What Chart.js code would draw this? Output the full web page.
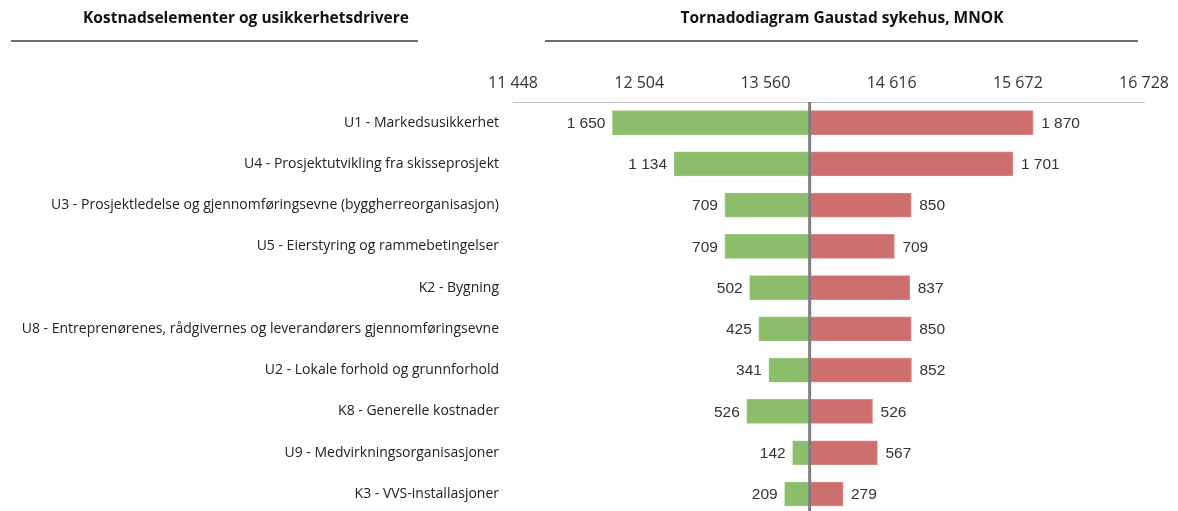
<!DOCTYPE html>
<html>
<head>
<meta charset="utf-8">
<script src="https://cdn.jsdelivr.net/npm/chart.js@4"></script>
<style>
  html, body { margin: 0; padding: 0; background: #fff; overflow: hidden; }
</style>
</head>
<body>
<canvas id="tornado" width="1178" height="537"></canvas>
<script>
const categories = [
    'U1 - Markedsusikkerhet',
    'U4 - Prosjektutvikling fra skisseprosjekt',
    'U3 - Prosjektledelse og gjennomføringsevne (byggherreorganisasjon)',
    'U5 - Eierstyring og rammebetingelser',
    'K2 - Bygning',
    'U8 - Entreprenørenes, rådgivernes og leverandørers gjennomføringsevne',
    'U2 - Lokale forhold og grunnforhold',
    'K8 - Generelle kostnader',
    'U9 - Medvirkningsorganisasjoner',
    'K3 - VVS-installasjoner'
];
const downside = [1650, 1134, 709, 709, 502, 425, 341, 526, 142, 209];
const upside = [1870, 1701, 850, 709, 837, 850, 852, 526, 567, 279];
const baseValue = 13930;
const tickValues = [11448, 12504, 13560, 14616, 15672, 16728];

const fmt = v => String(Math.round(v)).replace(/\B(?=(\d{3})+(?!\d))/g, ' ');

const labelFont = '"Open Sans", Lato, sans-serif';

const overlay = {
    id: 'overlay',
    afterDatasetsDraw(chart) {
        const ctx = chart.ctx;
        const x = chart.scales.x;
        const area = chart.chartArea;
        ctx.save();

        // base line
        const bx = x.getPixelForValue(baseValue);
        ctx.strokeStyle = '#7f7f7f';
        ctx.lineWidth = 3;
        ctx.beginPath();
        ctx.moveTo(bx, area.top);
        ctx.lineTo(bx, chart.height);
        ctx.stroke();

        // value labels
        ctx.font = '15.5px "Liberation Sans", Arial, sans-serif';
        ctx.fillStyle = '#333';
        ctx.textBaseline = 'middle';
        chart.getDatasetMeta(0).data.forEach((bar, i) => {
            ctx.textAlign = 'right';
            ctx.fillText(fmt(downside[i]), Math.min(bar.x, bar.base) - 7, bar.y + 1);
        });
        chart.getDatasetMeta(1).data.forEach((bar, i) => {
            ctx.textAlign = 'left';
            ctx.fillText(fmt(upside[i]), Math.max(bar.x, bar.base) + 8, bar.y + 1);
        });

        // headers
        ctx.font = 'bold 15.5px ' + labelFont;
        ctx.fillStyle = '#111';
        ctx.textAlign = 'center';
        ctx.fillText('Kostnadselementer og usikkerhetsdrivere', 246, 19);
        ctx.fillText('Tornadodiagram Gaustad sykehus, MNOK', 842, 19);
        ctx.strokeStyle = '#6f6f6f';
        ctx.lineWidth = 2;
        ctx.beginPath();
        ctx.moveTo(11, 41); ctx.lineTo(418, 41);
        ctx.moveTo(545, 41); ctx.lineTo(1138, 41);
        ctx.stroke();
        ctx.restore();
    }
};

new Chart(document.getElementById('tornado').getContext('2d'), {
    type: 'bar',
    data: {
        labels: categories,
        datasets: [{
            data: downside.map(v => [baseValue - v, baseValue]),
            backgroundColor: '#8bbd6a',
            borderColor: '#9cc77f',
            borderWidth: 1,
            borderSkipped: false,
            barThickness: 24,
            grouped: false
        }, {
            data: upside.map(v => [baseValue, baseValue + v]),
            backgroundColor: '#cd6f6f',
            borderColor: '#d88686',
            borderWidth: 1,
            borderSkipped: false,
            barThickness: 24,
            grouped: false
        }]
    },
    options: {
        indexAxis: 'y',
        responsive: false,
        animation: false,
        layout: { padding: { top: 0, right: 24, bottom: 0, left: 0 } },
        plugins: {
            legend: { display: false },
            tooltip: { enabled: false }
        },
        scales: {
            x: {
                position: 'top',
                min: 11448,
                max: 16728,
                afterBuildTicks: scale => {
                    scale.ticks = tickValues.map(v => ({ value: v }));
                },
                afterFit: scale => { scale.height = 102; },
                grid: { display: false, drawTicks: false },
                border: { display: true, color: '#c0c0c0', width: 1 },
                ticks: {
                    callback: v => fmt(v),
                    color: '#333',
                    padding: 9,
                    maxRotation: 0,
                    autoSkip: false,
                    font: { family: labelFont, size: 16 }
                }
            },
            y: {
                afterFit: scale => { scale.width = 513; },
                grid: { display: false, drawTicks: false },
                border: { display: false },
                ticks: {
                    color: '#222',
                    padding: 14,
                    autoSkip: false,
                    font: { family: labelFont, size: 14 }
                }
            }
        }
    },
    plugins: [overlay]
});
</script>
</body>
</html>
